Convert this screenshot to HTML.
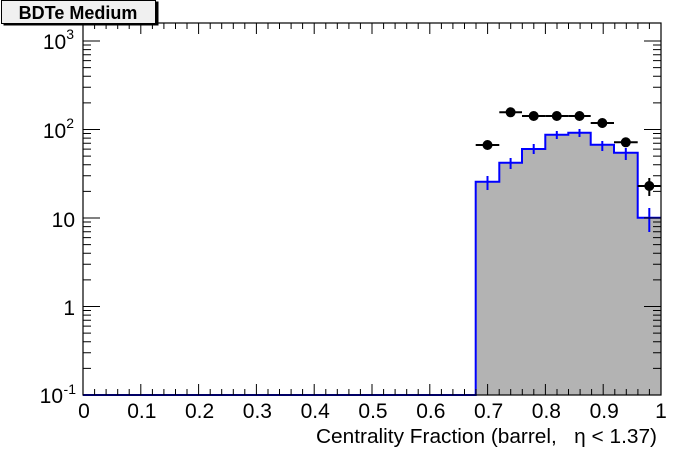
<!DOCTYPE html>
<html><head><style>body{margin:0;background:#fff}svg{display:block;font-family:"Liberation Sans",Arial,sans-serif}</style></head><body>
<svg width="696" height="472" viewBox="0 0 696 472" xmlns="http://www.w3.org/2000/svg">
<rect width="696" height="472" fill="#fff"/>
<path d="M475.7,395 V181.7 H499.3 V162.7 H522 V149 H545.3 V134.7 H568.3 V132.7 H590.7 V144.7 H614 V152.7 H637.7 V217.7 H661 V395 Z" fill="#b3b3b3"/>
<path d="M83,395 H475.7 V181.7 H499.3 V162.7 H522 V149 H545.3 V134.7 H568.3 V132.7 H590.7 V144.7 H614 V152.7 H637.7 V217.7 H661" fill="none" stroke="#0000ff" stroke-width="2"/>
<g stroke="#0000ff" stroke-width="2">
<line x1="487.5" y1="176" x2="487.5" y2="190"/>
<line x1="510.6" y1="158" x2="510.6" y2="169"/>
<line x1="533.7" y1="144" x2="533.7" y2="154"/>
<line x1="556.8" y1="131" x2="556.8" y2="139"/>
<line x1="579.5" y1="129" x2="579.5" y2="137"/>
<line x1="602.3" y1="141" x2="602.3" y2="151"/>
<line x1="625.8" y1="148" x2="625.8" y2="160"/>
<line x1="649.3" y1="208" x2="649.3" y2="232"/>
</g>
<g stroke="#000" stroke-width="2">
<line x1="475.7" y1="145" x2="499.3" y2="145"/>
<line x1="499.3" y1="112.3" x2="522" y2="112.3"/>
<line x1="522" y1="116" x2="545.3" y2="116"/>
<line x1="545.3" y1="116" x2="568.3" y2="116"/>
<line x1="568.3" y1="116" x2="590.7" y2="116"/>
<line x1="590.7" y1="123" x2="614" y2="123"/>
<line x1="614" y1="142.3" x2="637.7" y2="142.3"/>
<line x1="637.7" y1="186" x2="661" y2="186"/>
<line x1="649.3" y1="178" x2="649.3" y2="196"/>
</g>
<g fill="#000">
<circle cx="487.5" cy="145" r="5"/><circle cx="510.6" cy="112.3" r="5"/><circle cx="533.7" cy="116" r="5"/><circle cx="556.8" cy="116" r="5"/><circle cx="579.5" cy="116" r="5"/><circle cx="602.3" cy="123" r="5"/><circle cx="625.8" cy="142.3" r="5"/><circle cx="649.3" cy="186" r="5"/>
</g>
<rect x="83" y="23" width="578" height="372" fill="none" stroke="#000" stroke-width="1.2"/>
<g stroke="#000" stroke-width="1">
<path d="M83,395v-11M140.8,395v-11M198.6,395v-11M256.4,395v-11M314.2,395v-11M372,395v-11M429.8,395v-11M487.6,395v-11M545.4,395v-11M603.2,395v-11M661,395v-11
M83,23v11M140.8,23v11M198.6,23v11M256.4,23v11M314.2,23v11M372,23v11M429.8,23v11M487.6,23v11M545.4,23v11M603.2,23v11
M94.6,395v-6M106.1,395v-6M117.7,395v-6M129.2,395v-6M152.4,395v-6M163.9,395v-6M175.5,395v-6M187,395v-6M210.2,395v-6M221.7,395v-6M233.3,395v-6M244.8,395v-6M268,395v-6M279.5,395v-6M291.1,395v-6M302.6,395v-6M325.8,395v-6M337.3,395v-6M348.9,395v-6M360.4,395v-6M383.6,395v-6M395.1,395v-6M406.7,395v-6M418.2,395v-6M441.4,395v-6M452.9,395v-6M464.5,395v-6M476,395v-6M499.2,395v-6M510.7,395v-6M522.3,395v-6M533.8,395v-6M557,395v-6M568.5,395v-6M580.1,395v-6M591.6,395v-6M614.8,395v-6M626.3,395v-6M637.9,395v-6M649.4,395v-6
M94.6,23v6M106.1,23v6M117.7,23v6M129.2,23v6M152.4,23v6M163.9,23v6M175.5,23v6M187,23v6M210.2,23v6M221.7,23v6M233.3,23v6M244.8,23v6M268,23v6M279.5,23v6M291.1,23v6M302.6,23v6M325.8,23v6M337.3,23v6M348.9,23v6M360.4,23v6M383.6,23v6M395.1,23v6M406.7,23v6M418.2,23v6M441.4,23v6M452.9,23v6M464.5,23v6M476,23v6M499.2,23v6M510.7,23v6M522.3,23v6M533.8,23v6M557,23v6M568.5,23v6M580.1,23v6M591.6,23v6M614.8,23v6M626.3,23v6M637.9,23v6M649.4,23v6"/>
<path id="yt" d=""/>
</g>
<g font-size="21" text-anchor="end" fill="#000">
<text x="74" y="49">10<tspan font-size="14" dy="-10">3</tspan></text>
<text x="74" y="138">10<tspan font-size="14" dy="-10">2</tspan></text>
<text x="75" y="227">10</text>
<text x="75" y="315">1</text>
<text x="63" y="403">10</text><text x="76" y="394" font-size="14">-1</text>
</g>
<g font-size="21" text-anchor="middle" fill="#000">
<text x="84" y="418">0</text><text x="141.8" y="418">0.1</text><text x="199.6" y="418">0.2</text><text x="257.4" y="418">0.3</text><text x="315.2" y="418">0.4</text><text x="373" y="418">0.5</text><text x="430.8" y="418">0.6</text><text x="488.6" y="418">0.7</text><text x="546.4" y="418">0.8</text><text x="604.2" y="418">0.9</text><text x="661" y="418">1</text>
</g>
<text x="316" y="443" font-size="20" textLength="341" lengthAdjust="spacingAndGlyphs" fill="#000">Centrality Fraction (barrel,&#160;&#160; η &lt; 1.37)</text>
<rect x="3.5" y="1.5" width="155" height="24" fill="#000"/>
<rect x="1.5" y="0.5" width="154" height="23" fill="#f0f0f0" stroke="#000"/>
<text x="78" y="19" font-size="18" font-weight="bold" text-anchor="middle" fill="#000">BDTe Medium</text>
<script>
(function(){var d="";var y0=395,dec=88.5;for(var e=-1;e<=3;e++){for(var m=1;m<=9;m++){var y=y0-(e+1+Math.log10(m))*dec;if(y<23)continue;var L=m==1?17:8;d+="M83,"+y.toFixed(1)+"h"+L+"M661,"+y.toFixed(1)+"h-"+L;}}document.getElementById("yt").setAttribute("d",d);})();
</script>
</svg>
</body></html>
